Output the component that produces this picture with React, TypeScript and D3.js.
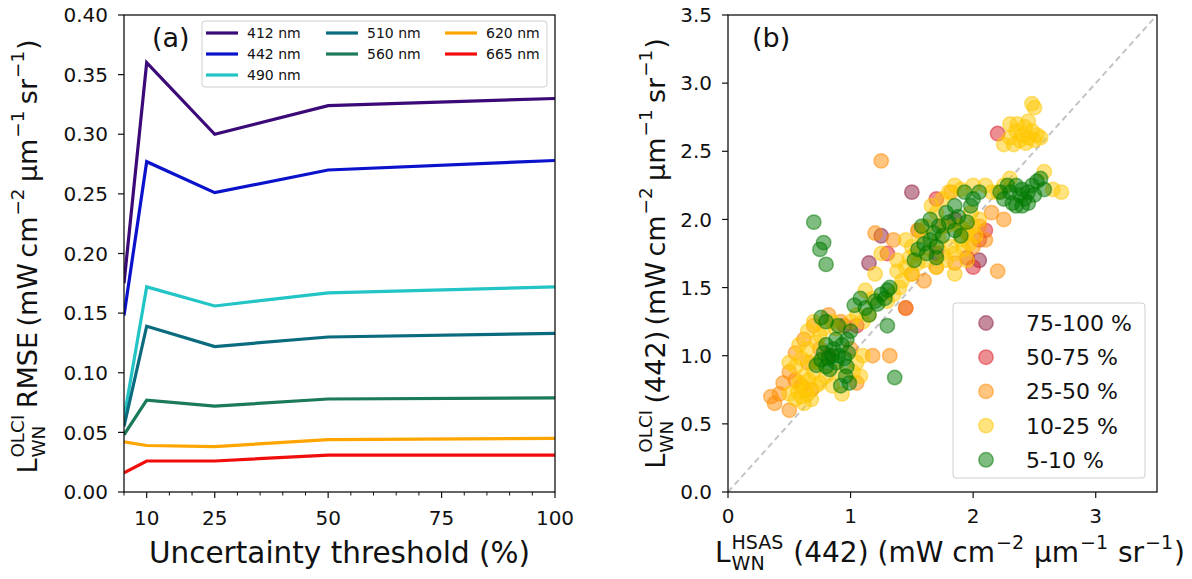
import React from "react";
import * as d3 from "d3";

// ---------- Panel (a): RMSE vs uncertainty threshold ----------
const thresholds = [5, 10, 25, 50, 100];
const bandLabels = ["412 nm", "442 nm", "490 nm", "510 nm", "560 nm", "620 nm", "665 nm"];
const bandColors = ["#3c0a78", "#0a12cc", "#22c4c6", "#0b6b7e", "#1b7a57", "#ffa500", "#f20d0d"];
const rmse412 = [0.175, 0.36, 0.3, 0.324, 0.33];
const rmse442 = [0.148, 0.277, 0.251, 0.27, 0.278];
const rmse490 = [0.062, 0.172, 0.156, 0.167, 0.172];
const rmse510 = [0.055, 0.139, 0.122, 0.13, 0.133];
const rmse560 = [0.048, 0.077, 0.072, 0.078, 0.079];
const rmse620 = [0.042, 0.039, 0.038, 0.044, 0.045];
const rmse665 = [0.016, 0.026, 0.026, 0.031, 0.031];
const rmseSeries = [rmse412, rmse442, rmse490, rmse510, rmse560, rmse620, rmse665];
const xTicksA = [10, 25, 50, 75, 100];
const yTicksA = [0, 0.05, 0.1, 0.15, 0.2, 0.25, 0.3, 0.35, 0.4];

// ---------- Panel (b): OLCI vs HSAS at 442 nm ----------
const classLabels = ["75-100 %", "50-75 %", "25-50 %", "10-25 %", "5-10 %"];
const classColors = ["#8b1a3c", "#dc1e28", "#ff8c00", "#ffc800", "#007a00"];

const pts75to100: [number, number][] = [
  [1.5, 2.2], [1.25, 1.88], [1.15, 1.68], [2.05, 1.7], [1.85, 2.0], [1.7, 1.75],
];
const pts50to75: [number, number][] = [
  [2.2, 2.63], [2.1, 1.92], [2.05, 1.85], [0.95, 1.22], [1.05, 1.22], [1.3, 1.75],
  [1.55, 1.92], [1.95, 1.72], [2.0, 1.65], [1.7, 2.15], [0.82, 1.0], [1.45, 1.35],
];
const pts25to50: [number, number][] = [
  [0.35, 0.7], [0.42, 0.72], [0.38, 0.65], [0.45, 0.8], [0.5, 0.88], [0.55, 0.82],
  [0.6, 0.78], [0.68, 0.75], [0.55, 1.02], [0.62, 1.12], [0.7, 1.22], [0.75, 1.05],
  [0.82, 1.3], [0.65, 0.95], [0.92, 1.25], [1.0, 1.05], [1.05, 0.8], [1.18, 1.0],
  [1.2, 1.9], [1.25, 2.43], [1.35, 1.85], [1.45, 1.35], [1.5, 1.6], [1.6, 1.55],
  [1.7, 1.65], [1.75, 1.95], [1.85, 1.68], [1.95, 1.9], [2.0, 1.8], [2.05, 1.95],
  [2.1, 1.85], [2.2, 1.62], [2.15, 2.05], [1.82, 2.2], [2.25, 2.0], [1.32, 1.0],
  [0.5, 0.6],
];
const pts10to25: [number, number][] = [
  [0.5, 0.72], [0.55, 0.68], [0.6, 0.7], [0.62, 0.65], [0.65, 0.72], [0.68, 0.68],
  [0.58, 0.8], [0.62, 0.85], [0.55, 0.92], [0.6, 0.98], [0.65, 1.05], [0.68, 0.95],
  [0.7, 0.88], [0.72, 1.1], [0.75, 1.15], [0.78, 1.2], [0.7, 1.25], [0.65, 1.18],
  [0.85, 1.25], [0.88, 1.2], [0.8, 0.85], [0.75, 0.8], [0.72, 0.78], [0.9, 0.88],
  [0.93, 0.72], [0.85, 0.78], [0.5, 0.95], [0.58, 1.08], [1.05, 0.95], [1.1, 1.0],
  [1.02, 0.88], [1.08, 0.85], [0.63, 0.75], [0.57, 0.74], [0.66, 0.82], [0.74, 0.95],
  [1.0, 1.25], [1.05, 1.3], [1.1, 1.25], [1.15, 1.3], [1.18, 1.42], [1.12, 1.48],
  [1.3, 1.4], [1.35, 1.45], [1.4, 1.5], [1.42, 1.55], [1.38, 1.62], [1.45, 1.65],
  [1.5, 1.6], [1.48, 1.72], [1.55, 1.68], [1.5, 1.8], [1.58, 1.88], [1.55, 1.92],
  [1.62, 1.95], [1.6, 1.7], [1.7, 1.65], [1.75, 1.75], [1.78, 1.7], [1.82, 1.8],
  [1.85, 1.75], [1.9, 1.85], [1.92, 1.78], [1.88, 1.95], [1.95, 1.9], [2.0, 1.95],
  [2.02, 1.88], [2.05, 2.0], [1.98, 2.05], [1.78, 1.95], [1.7, 2.05], [1.66, 2.1],
  [1.75, 2.15], [1.8, 2.2], [1.85, 2.25], [1.9, 2.22], [2.0, 2.25], [2.1, 2.25],
  [2.15, 2.2], [1.95, 1.7], [1.85, 1.6], [1.25, 1.75], [1.38, 1.7], [1.2, 1.6],
  [1.45, 1.85], [1.53, 1.75], [1.65, 1.78], [1.72, 1.85], [1.9, 1.95], [1.97, 1.82],
  [2.25, 2.55], [2.3, 2.6], [2.35, 2.65], [2.38, 2.58], [2.4, 2.62], [2.42, 2.68],
  [2.45, 2.6], [2.48, 2.65], [2.5, 2.58], [2.52, 2.62], [2.55, 2.6], [2.3, 2.7],
  [2.45, 2.72], [2.5, 2.82], [2.48, 2.85], [2.33, 2.55], [2.43, 2.56], [2.36, 2.7],
  [2.25, 2.25], [2.2, 2.2], [2.65, 2.22], [2.72, 2.2], [2.3, 2.3], [2.58, 2.35],
];
const pts5to10: [number, number][] = [
  [0.72, 0.93], [0.76, 0.97], [0.8, 0.92], [0.82, 0.98], [0.85, 1.0], [0.78, 1.02],
  [0.83, 0.9], [0.88, 0.95], [0.86, 1.05], [0.8, 1.08], [0.9, 1.0], [0.95, 0.98],
  [0.97, 0.92], [0.98, 1.02], [0.93, 1.08], [0.96, 0.85], [0.99, 0.8], [0.92, 0.78],
  [0.97, 1.12], [1.0, 1.18], [0.76, 1.28], [0.8, 1.25], [0.9, 1.22], [0.88, 1.12],
  [0.7, 1.98], [0.78, 1.83], [0.75, 1.78], [0.8, 1.67], [1.36, 0.84],
  [1.03, 1.37], [1.08, 1.42], [1.12, 1.35], [1.2, 1.4], [1.25, 1.45], [1.28, 1.42],
  [1.22, 1.38], [1.3, 1.48], [1.15, 1.3], [1.3, 1.22], [1.32, 1.5],
  [1.55, 1.78], [1.6, 1.82], [1.65, 1.85], [1.62, 1.75], [1.68, 1.9], [1.7, 1.8],
  [1.72, 1.95], [1.75, 1.88], [1.58, 1.95], [1.65, 2.0], [1.78, 2.05], [1.8, 1.98],
  [1.85, 1.92], [1.9, 1.88], [1.88, 2.02], [1.52, 1.7], [1.7, 1.72], [1.95, 1.98],
  [1.98, 2.1], [2.0, 2.15], [1.93, 2.2], [2.05, 2.2], [1.85, 2.1],
  [2.25, 2.15], [2.3, 2.2], [2.32, 2.12], [2.35, 2.25], [2.38, 2.18], [2.4, 2.22],
  [2.42, 2.15], [2.45, 2.2], [2.48, 2.25], [2.5, 2.18], [2.52, 2.28], [2.55, 2.3],
  [2.35, 2.1], [2.28, 2.25], [2.4, 2.1], [2.45, 2.12], [2.22, 2.2], [2.58, 2.22],
];
const classPoints = [pts75to100, pts50to75, pts25to50, pts10to25, pts5to10];
const ticksB = [0, 1, 2, 3];
const yTicksB = [0, 0.5, 1, 1.5, 2, 2.5, 3, 3.5];

// ---------- text helpers ----------
const FONT = "'DejaVu Sans', sans-serif";
let measureCtx: CanvasRenderingContext2D | null = null;
function textWidth(s: string, size: number): number {
  if (!measureCtx) measureCtx = document.createElement("canvas").getContext("2d");
  if (!measureCtx) return s.length * size * 0.6;
  measureCtx.font = `${size}px 'DejaVu Sans'`;
  return measureCtx.measureText(s).width;
}

type Tok = string | { sup?: string; sub?: string };

// Renders a label made of plain runs and stacked super/subscripts, centred on (x, y).
function MathLabel({ tokens, size, x, y, rotate = 0 }: { tokens: Tok[]; size: number; x: number; y: number; rotate?: number }) {
  const ss = size * 0.68;
  let pos = 0;
  const items: React.ReactNode[] = [];
  tokens.forEach((t, i) => {
    if (typeof t === "string") {
      items.push(
        <text key={i} x={pos} y={0} fontSize={size} style={{ whiteSpace: "pre" }}>{t}</text>
      );
      pos += textWidth(t, size);
    } else {
      let w = 0;
      if (t.sup) {
        items.push(<text key={i + "p"} x={pos + 1} y={-size * 0.48} fontSize={ss} style={{ whiteSpace: "pre" }}>{t.sup}</text>);
        w = Math.max(w, textWidth(t.sup, ss));
      }
      if (t.sub) {
        items.push(<text key={i + "b"} x={pos + 1} y={size * 0.3} fontSize={ss} style={{ whiteSpace: "pre" }}>{t.sub}</text>);
        w = Math.max(w, textWidth(t.sub, ss));
      }
      pos += w + 2;
    }
  });
  return (
    <g transform={`translate(${x},${y}) rotate(${rotate}) translate(${-pos / 2},0)`} fill="#111">
      {items}
    </g>
  );
}

const TS = "\u2009";
const unitTokensThin: Tok[] = [`${TS}(mW${TS}cm`, { sup: "−2" }, `${TS}μm`, { sup: "−1" }, `${TS}sr`, { sup: "−1" }, ")"];
const unitTokens: Tok[] = [" (mW cm", { sup: "−2" }, " μm", { sup: "−1" }, " sr", { sup: "−1" }, ")"];

export default function App() {
  // Panel (a) geometry
  const aL = 124, aR = 555, aT = 15, aB = 492;
  const xa = d3.scaleLinear().domain([5, 100]).range([aL, aR]);
  const ya = d3.scaleLinear().domain([0, 0.4]).range([aB, aT]);
  const lineGen = d3.line<[number, number]>().x((d) => xa(d[0])).y((d) => ya(d[1]));
  const minorA = d3.range(5, 101, 5).filter((v) => !xTicksA.includes(v));

  // Panel (b) geometry
  const bL = 728, bR = 1157, bT = 15, bB = 492;
  const xb = d3.scaleLinear().domain([0, 3.5]).range([bL, bR]);
  const yb = d3.scaleLinear().domain([0, 3.5]).range([bB, bT]);

  const tickFont = 20;
  const labelFont = 27;

  const legendCols = [[0, 1, 2], [3, 4], [5, 6]];
  const legendColX = [206, 326, 445];
  const legendRowY = [33, 54, 75];

  const markerOpacity = 0.5;

  return (
    <svg width={1192} height={579} style={{ display: "block", position: "absolute", left: 0, top: 0 }} fontFamily={FONT}>
      <rect x={0} y={0} width={1192} height={579} fill="#fff" />

      {/* ===== Panel (a) ===== */}
      <g>
        <defs>
          <clipPath id="clipA">
            <rect x={aL} y={aT} width={aR - aL} height={aB - aT} />
          </clipPath>
        </defs>
        <g clipPath="url(#clipA)">
          {rmseSeries.map((vals, i) => (
            <path
              key={i}
              d={lineGen(thresholds.map((t, j) => [t, vals[j]] as [number, number])) || ""}
              fill="none"
              stroke={bandColors[i]}
              strokeWidth={3.2}
              strokeLinejoin="miter"
            />
          ))}
        </g>
        <rect x={aL} y={aT} width={aR - aL} height={aB - aT} fill="none" stroke="#111" strokeWidth={1.3} />
        {xTicksA.map((t) => (
          <g key={t}>
            <line x1={xa(t)} x2={xa(t)} y1={aB} y2={aB + 6} stroke="#111" strokeWidth={1.2} />
            <text x={xa(t)} y={aB + 33} textAnchor="middle" fontSize={tickFont} fill="#111">{t}</text>
          </g>
        ))}
        {minorA.map((t) => (
          <line key={"m" + t} x1={xa(t)} x2={xa(t)} y1={aB} y2={aB + 3.5} stroke="#111" strokeWidth={1} />
        ))}
        {yTicksA.map((t) => (
          <g key={t}>
            <line x1={aL - 6} x2={aL} y1={ya(t)} y2={ya(t)} stroke="#111" strokeWidth={1.2} />
            <text x={aL - 16} y={ya(t)} dy="0.36em" textAnchor="end" fontSize={tickFont} fill="#111">{t.toFixed(2)}</text>
          </g>
        ))}
        <text x={152} y={47} fontSize={labelFont} fill="#111">(a)</text>
        <rect x={202} y={21} width={345} height={66} rx={3} fill="#fff" fillOpacity={0.85} stroke="#cfcfcf" strokeWidth={1} />
        {legendCols.map((col, ci) =>
          col.map((bi, ri) => (
            <g key={bi}>
              <line x1={legendColX[ci]} x2={legendColX[ci] + 32} y1={legendRowY[ri]} y2={legendRowY[ri]} stroke={bandColors[bi]} strokeWidth={3.2} />
              <text x={legendColX[ci] + 41} y={legendRowY[ri]} dy="0.36em" fontSize={14} fill="#111">{bandLabels[bi]}</text>
            </g>
          ))
        )}
        <text x={(147 + 532) / 2} y={563} textAnchor="middle" fontSize={29.5} fill="#111">Uncertainty threshold (%)</text>
        <MathLabel tokens={["L", { sup: "OLCI", sub: "WN" }, `${TS}RMSE`, ...unitTokensThin]} size={labelFont} x={37} y={(aT + aB) / 2 + 3} rotate={-90} />
      </g>

      {/* ===== Panel (b) ===== */}
      <g>
        <defs>
          <clipPath id="clipB">
            <rect x={bL} y={bT} width={bR - bL} height={bB - bT} />
          </clipPath>
        </defs>
        <g clipPath="url(#clipB)">
          <line x1={xb(0)} y1={yb(0)} x2={xb(3.5)} y2={yb(3.5)} stroke="#c4c4c4" strokeWidth={2} strokeDasharray="6,4" />
          {classPoints.map((pts, ci) => (
            <g key={ci}>
              {pts.map((p, k) => (
                <circle
                  key={k}
                  cx={xb(p[0])}
                  cy={yb(p[1])}
                  r={7.2}
                  fill={classColors[ci]}
                  fillOpacity={markerOpacity}
                  stroke={classColors[ci]}
                  strokeOpacity={markerOpacity}
                  strokeWidth={1.5}
                />
              ))}
            </g>
          ))}
        </g>
        <rect x={bL} y={bT} width={bR - bL} height={bB - bT} fill="none" stroke="#111" strokeWidth={1.3} />
        {ticksB.map((t) => (
          <g key={t}>
            <line x1={xb(t)} x2={xb(t)} y1={bB} y2={bB + 6} stroke="#111" strokeWidth={1.2} />
            <text x={xb(t)} y={bB + 31} textAnchor="middle" fontSize={tickFont} fill="#111">{t}</text>
          </g>
        ))}
        {yTicksB.map((t) => (
          <g key={t}>
            <line x1={bL - 6} x2={bL} y1={yb(t)} y2={yb(t)} stroke="#111" strokeWidth={1.2} />
            <text x={bL - 16} y={yb(t)} dy="0.36em" textAnchor="end" fontSize={tickFont} fill="#111">{t.toFixed(1)}</text>
          </g>
        ))}
        <text x={752} y={47} fontSize={labelFont} fill="#111">(b)</text>
        <rect x={953} y={303} width={192} height={175} rx={3} fill="#fff" fillOpacity={0.85} stroke="#cfcfcf" strokeWidth={1} />
        {classLabels.map((lab, i) => {
          const yy = 323 + i * 34.2;
          return (
            <g key={lab}>
              <circle cx={986} cy={yy} r={7.2} fill={classColors[i]} fillOpacity={markerOpacity} stroke={classColors[i]} strokeOpacity={markerOpacity} strokeWidth={1.5} />
              <text x={1026} y={yy} dy="0.36em" fontSize={22} fill="#111">{lab}</text>
            </g>
          );
        })}
        <MathLabel tokens={["L", { sup: "HSAS", sub: "WN" }, " (442)", ...unitTokens]} size={28} x={950} y={562} />
        <MathLabel tokens={["L", { sup: "OLCI", sub: "WN" }, `${TS}(442)`, ...unitTokensThin]} size={labelFont} x={665} y={(bT + bB) / 2} rotate={-90} />
      </g>
    </svg>
  );
}
